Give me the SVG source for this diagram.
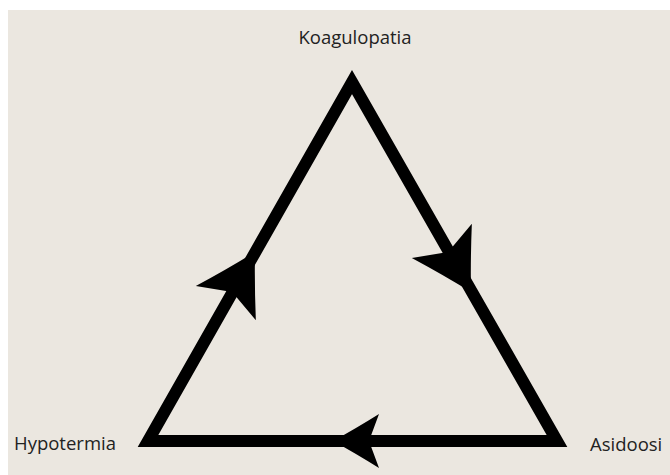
<svg xmlns="http://www.w3.org/2000/svg" width="670" height="475" viewBox="0 0 670 475">
  <style>
    .label { font-family: "Open Sans", "Noto Sans", "Liberation Sans", sans-serif; font-size: 18.5px; fill: #222222; }
    .edge { fill: none; stroke: #000000; stroke-width: 12; stroke-linejoin: miter; stroke-miterlimit: 10; }
    .head { fill: #000000; }
  </style>
  <defs>
    <!-- notched arrowhead, tip at origin, pointing along +x -->
    <path id="arrowhead" d="M0,0 Q-22,-12 -46,-27 L-36,0 L-46,27 Q-22,12 0,0 Z"/>
  </defs>
  <rect x="0" y="0" width="670" height="475" fill="#ffffff"/>
  <rect x="8" y="10" width="662" height="465" fill="#ebe7e0"/>

  <g id="connectors">
    <polygon class="edge" points="352,82 557,441 148,441"/>
    <use href="#arrowhead" class="head" transform="translate(255,252) rotate(-60.3) scale(1.28)"/>
    <use href="#arrowhead" class="head" transform="translate(471,292) rotate(60.3) scale(1.28)"/>
    <use href="#arrowhead" class="head" transform="translate(333,441) rotate(180)"/>
  </g>

  <g id="koagulopatia">
    <text class="label" x="355" y="44" text-anchor="middle">Koagulopatia</text>
  </g>
  <g id="hypotermia">
    <text class="label" x="14" y="450">Hypotermia</text>
  </g>
  <g id="asidoosi">
    <text class="label" x="590" y="451">Asidoosi</text>
  </g>
</svg>
